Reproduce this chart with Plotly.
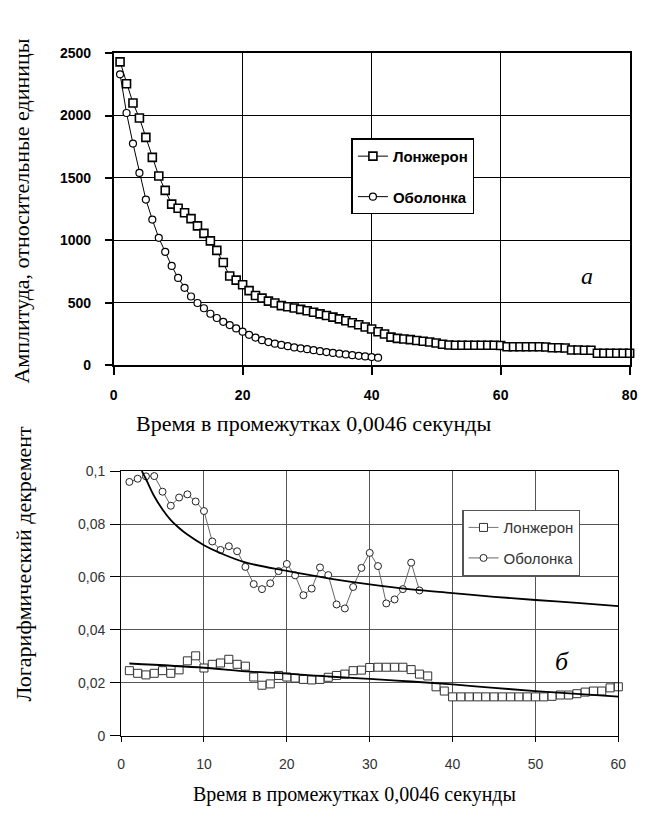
import plotly.graph_objects as go

W, H = 645, 818

SERIF = "Liberation Serif"
SANS = "Liberation Sans"

# ---------- panel (a): amplitude decay ----------
amp_x_spar = list(range(1, 81))
amp_spar = [2430, 2255, 2100, 1980, 1825, 1665, 1515, 1400, 1290, 1257,
            1221, 1174, 1116, 1056, 996, 920, 822, 714, 681, 644,
            597, 558, 537, 513, 498, 477, 468, 458, 447, 436,
            424, 411, 398, 385, 371, 356, 340, 324, 306, 290,
            268, 250, 225, 215, 210, 205, 198, 192, 186, 178,
            168, 162, 160, 160, 160, 160, 160, 160, 160, 158,
            148, 148, 148, 148, 148, 148, 146, 140, 140, 138,
            122, 122, 120, 120, 96, 96, 96, 96, 95, 95]

amp_x_shell = list(range(1, 42))
amp_shell = [2330, 2020, 1775, 1540, 1327, 1166, 1020, 908, 795, 699,
             620, 550, 498, 456, 412, 378, 347, 321, 294, 268,
             243, 221, 200, 185, 172, 162, 152, 142, 135, 128,
             120, 112, 105, 98, 92, 86, 80, 75, 70, 65, 60]

amp_xticks = [0, 20, 40, 60, 80]
amp_yticks = [0, 500, 1000, 1500, 2000, 2500]

# ---------- panel (b): logarithmic decrement ----------
dec_x_spar = list(range(1, 61))
dec_spar = [0.0246, 0.0236, 0.0230, 0.0236, 0.0246, 0.0236, 0.0249, 0.0283, 0.0302, 0.0256,
            0.0270, 0.0275, 0.0289, 0.0270, 0.0263, 0.0222, 0.0191, 0.0196, 0.0228, 0.0222,
            0.0218, 0.0213, 0.0211, 0.0213, 0.0221, 0.0228, 0.0233, 0.0246, 0.0248, 0.0258,
            0.0259, 0.0259, 0.0259, 0.0259, 0.0250, 0.0233, 0.0226, 0.0185, 0.0169, 0.0147,
            0.0147, 0.0147, 0.0147, 0.0147, 0.0147, 0.0147, 0.0147, 0.0147, 0.0147, 0.0147,
            0.0147, 0.0149, 0.0154, 0.0154, 0.0159, 0.0165, 0.0169, 0.0169, 0.0181, 0.0185]

dec_x_shell = list(range(1, 37))
dec_shell = [0.0959, 0.0971, 0.0980, 0.0981, 0.0922, 0.0869, 0.0900, 0.0912, 0.0885, 0.0849,
             0.0734, 0.0702, 0.0716, 0.0697, 0.0638, 0.0573, 0.0554, 0.0576, 0.0622, 0.0649,
             0.0606, 0.0531, 0.0556, 0.0636, 0.0607, 0.0496, 0.0481, 0.0562, 0.0634, 0.0691,
             0.0641, 0.0500, 0.0515, 0.0554, 0.0654, 0.0549]

# trend curves
trend_x_spar = [1, 10, 15, 20, 25, 30, 35, 40, 45, 50, 55, 60]
trend_spar = [0.0273, 0.0257, 0.0243, 0.0235, 0.0224, 0.0215, 0.0205, 0.0194, 0.0181, 0.0169, 0.0158, 0.0148]

trend_x_shell = [2.5, 3, 4, 5, 6, 7, 8, 10, 12, 15, 20, 25, 30, 35, 40, 45, 50, 55, 60]
trend_shell = [0.1, 0.097, 0.0905, 0.0855, 0.0815, 0.0785, 0.076, 0.072, 0.069, 0.0655,
               0.0623, 0.0595, 0.0572, 0.0553, 0.0539, 0.0525, 0.0513, 0.0502, 0.049]

dec_xticks = [0, 10, 20, 30, 40, 50, 60]
dec_yticks = [0, 0.02, 0.04, 0.06, 0.08, 0.1]
dec_yticktext = ["0", "0,02", "0,04", "0,06", "0,08", "0,1"]

name_spar = "Лонжерон"
name_shell = "Оболонка"

fig = go.Figure()

# panel (a)
fig.add_trace(go.Scatter(
    x=amp_x_spar, y=amp_spar, name=name_spar, mode="lines+markers",
    line=dict(color="black", width=1),
    marker=dict(symbol="square", size=8, color="white", line=dict(color="black", width=1.6)),
    xaxis="x", yaxis="y", legend="legend", legendgroup="a1", cliponaxis=False))
fig.add_trace(go.Scatter(
    x=amp_x_shell, y=amp_shell, name=name_shell, mode="lines+markers",
    line=dict(color="black", width=1),
    marker=dict(symbol="circle", size=7, color="white", line=dict(color="black", width=1.2)),
    xaxis="x", yaxis="y", legend="legend", legendgroup="a2", cliponaxis=False))

# panel (b)
fig.add_trace(go.Scatter(
    x=dec_x_spar, y=dec_spar, name=name_spar, mode="lines+markers",
    line=dict(color="#777777", width=1),
    marker=dict(symbol="square", size=8, color="white", line=dict(color="#333333", width=1)),
    xaxis="x2", yaxis="y2", legend="legend2", legendgroup="b1", cliponaxis=False))
fig.add_trace(go.Scatter(
    x=dec_x_shell, y=dec_shell, name=name_shell, mode="lines+markers",
    line=dict(color="#666666", width=1),
    marker=dict(symbol="circle", size=7, color="white", line=dict(color="#222222", width=1)),
    xaxis="x2", yaxis="y2", legend="legend2", legendgroup="b2", cliponaxis=False))
fig.add_trace(go.Scatter(
    x=trend_x_spar, y=trend_spar, mode="lines", showlegend=False,
    line=dict(color="black", width=1.8, shape="spline"),
    xaxis="x2", yaxis="y2"))
fig.add_trace(go.Scatter(
    x=trend_x_shell, y=trend_shell, mode="lines", showlegend=False,
    line=dict(color="black", width=1.8, shape="spline"),
    xaxis="x2", yaxis="y2"))

top_tick_font = dict(family=SANS, size=14, color="black", weight="bold")
bot_tick_font = dict(family=SANS, size=14, color="#333333")

fig.update_layout(
    width=W, height=H,
    margin=dict(l=0, r=0, t=0, b=0),
    paper_bgcolor="white", plot_bgcolor="white",
    showlegend=True,
    xaxis=dict(domain=[111.7 / W, 637.5 / W], range=[0, 80], tickvals=amp_xticks,
               showgrid=True, gridcolor="black", gridwidth=1, zeroline=False,
               showline=True, linecolor="black", linewidth=1.5, mirror=True,
               ticks="outside", ticklen=8, tickcolor="black", tickwidth=1.5,
               ticklabelstandoff=8, tickfont=top_tick_font, anchor="y"),
    yaxis=dict(domain=[1 - 364.3 / H, 1 - 46 / H], range=[0, 2500], tickvals=amp_yticks,
               showgrid=True, gridcolor="black", gridwidth=1, zeroline=False,
               showline=True, linecolor="black", linewidth=1.5, mirror=True,
               ticks="outside", ticklen=7, tickcolor="black", tickwidth=1.5,
               ticklabelstandoff=11, tickfont=top_tick_font, anchor="x"),
    xaxis2=dict(domain=[119.3 / W, 626 / W], range=[0, 60], tickvals=dec_xticks,
                showgrid=True, gridcolor="#555555", gridwidth=1.2, zeroline=False,
                showline=True, linecolor="black", linewidth=1, mirror=True,
                ticks="outside", ticklen=5, tickcolor="black",
                ticklabelstandoff=10, tickfont=bot_tick_font, anchor="y2"),
    yaxis2=dict(domain=[1 - 742.3 / H, 1 - 472.3 / H], range=[0, 0.1],
                tickvals=dec_yticks, ticktext=dec_yticktext,
                showgrid=True, gridcolor="#555555", gridwidth=1.2, zeroline=False,
                showline=True, linecolor="black", linewidth=1, mirror=True,
                ticks="outside", ticklen=10, tickcolor="black",
                ticklabelstandoff=2, tickfont=bot_tick_font, anchor="x2"),
    legend=dict(x=354 / W, y=1 - 133 / H, xanchor="left", yanchor="top",
                bgcolor="white", bordercolor="black", borderwidth=1.5,
                font=dict(family=SANS, size=15, color="black", weight="bold"),
                traceorder="grouped", tracegroupgap=18),
    legend2=dict(x=467 / W, y=1 - 512 / H, xanchor="left", yanchor="top",
                 bgcolor="white", bordercolor="#555555", borderwidth=1.2,
                 font=dict(family=SANS, size=15, color="#333333"),
                 traceorder="grouped", tracegroupgap=8),
    annotations=[
        dict(text="Амплитуда, относительные единицы", xref="paper", yref="paper",
             x=18 / W, y=1 - 207 / H, textangle=-90, showarrow=False,
             xanchor="center", yanchor="middle",
             font=dict(family=SERIF, size=22, color="black")),
        dict(text="Время в промежутках 0,0046 секунды", xref="paper", yref="paper",
             x=315 / W, y=1 - 424 / H, showarrow=False,
             xanchor="center", yanchor="middle",
             font=dict(family=SERIF, size=22, color="black")),
        dict(text="Логарифмический декремент", xref="paper", yref="paper",
             x=20 / W, y=1 - 567 / H, textangle=-90, showarrow=False,
             xanchor="center", yanchor="middle",
             font=dict(family=SERIF, size=22, color="black")),
        dict(text="Время в промежутках 0,0046 секунды", xref="paper", yref="paper",
             x=357 / W, y=1 - 802 / H, showarrow=False,
             xanchor="center", yanchor="middle",
             font=dict(family=SERIF, size=20, color="black")),
        dict(text="а", xref="x", yref="y", x=73.4, y=715, showarrow=False,
             font=dict(family=SERIF, size=24, color="black", style="italic")),
        dict(text="б", xref="x2", yref="y2", x=53.2, y=0.028, showarrow=False,
             font=dict(family=SERIF, size=26, color="black", style="italic")),
    ],
)

fig.write_html("out.html")
